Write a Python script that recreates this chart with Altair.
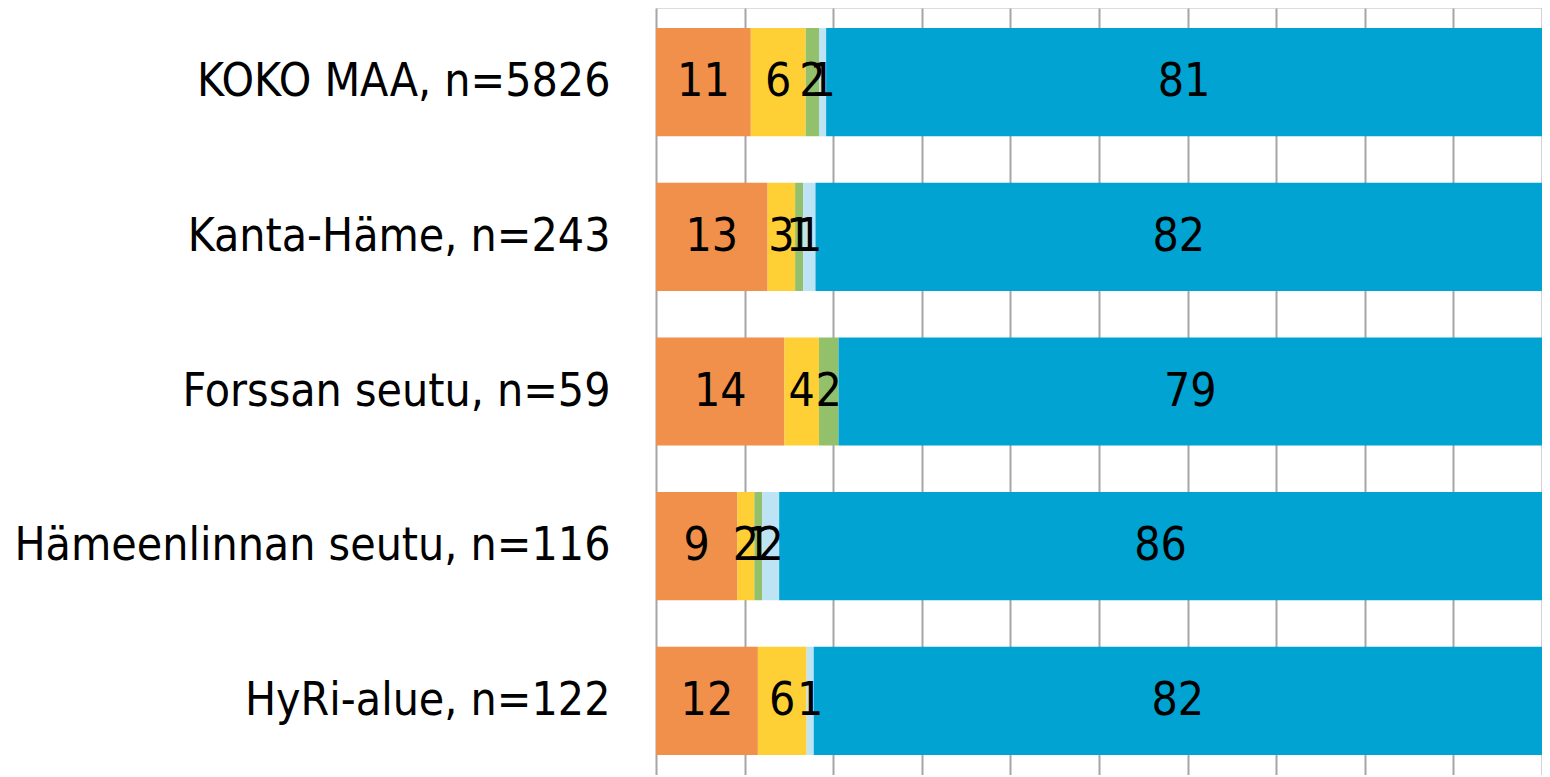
import altair as alt
import pandas as pd

categories = ["KOKO MAA, n=5826", "Kanta-Häme, n=243", "Forssan seutu, n=59",
              "Hämeenlinnan seutu, n=116", "HyRi-alue, n=122"]
segments = ["s1", "s2", "s3", "s4", "s5"]
colors = ["#F0904A", "#FED036", "#93C16B", "#BDE3F5", "#00A3D1"]

values = [
    [10.7, 6.2, 1.5, 0.8, 80.8],
    [12.6, 3.1, 0.9, 1.4, 82.0],
    [14.5, 3.9, 2.2, 0.0, 79.4],
    [9.2, 1.9, 0.9, 1.9, 86.1],
    [11.5, 5.5, 0.0, 0.8, 82.2],
]
labels = [
    ["11", "6", "2", "1", "81"],
    ["13", "3", "1", "1", "82"],
    ["14", "4", "2", "", "79"],
    ["9", "2", "1", "2", "86"],
    ["12", "6", "", "1", "82"],
]

rows = []
for ci, cat in enumerate(categories):
    for si, seg in enumerate(segments):
        rows.append({"cat": cat, "seg": seg, "order": si,
                     "value": values[ci][si], "label": labels[ci][si]})
df = pd.DataFrame(rows)

FONT = "DejaVu Sans Condensed"

base = alt.Chart(df).transform_stack(
    stack="value", groupby=["cat"], as_=["x0", "x1"],
    sort=[alt.SortField("order", order="ascending")]
).transform_calculate(mid="(datum.x0 + datum.x1) / 2")

yenc = alt.Y("cat:N", sort=categories, title=None,
             scale=alt.Scale(paddingInner=0.3, paddingOuter=0.13),
             axis=alt.Axis(labelFontSize=46, labelFont=FONT, labelColor="#000000",
                           labelPadding=46, ticks=False, domain=False, labelLimit=700))

bars = base.mark_bar().encode(
    x=alt.X("x0:Q", scale=alt.Scale(domain=[0, 100], nice=False), title=None,
            axis=alt.Axis(values=list(range(0, 101, 10)), labels=False, ticks=False,
                          domain=False, grid=True, gridColor="#A6A6A6", gridWidth=2)),
    x2="x1:Q",
    y=yenc,
    color=alt.Color("seg:N", scale=alt.Scale(domain=segments, range=colors), legend=None),
)

text = base.mark_text(font=FONT, fontSize=46, color="#000000", baseline="middle",
                      align="center").encode(
    x=alt.X("mid:Q"),
    y=alt.Y("cat:N", sort=categories),
    text="label:N",
)

chart = alt.layer(bars, text).properties(
    width=886, height=767,
    autosize=alt.AutoSizeParams(type="none"),
    padding={"left": 648, "top": 0, "right": 0, "bottom": 0},
).configure_view(stroke="#A6A6A6", strokeWidth=2).configure(background="white")

chart.save("out.html", embed_options={"renderer": "svg", "actions": False})
